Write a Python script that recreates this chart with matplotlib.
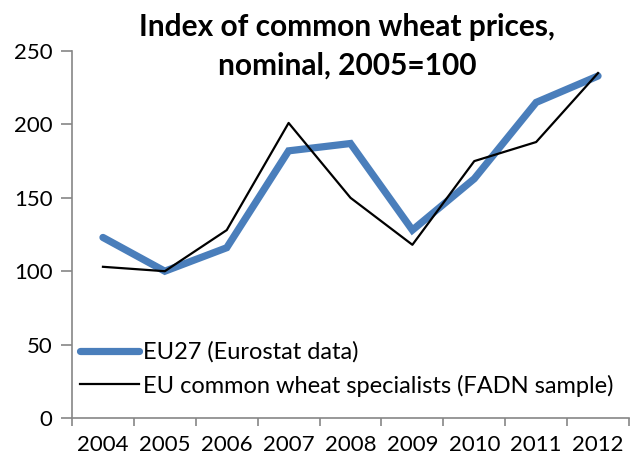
import matplotlib
matplotlib.use("Agg")
import matplotlib.pyplot as plt

plt.rcParams['font.family'] = ['Lato', 'DejaVu Sans']

years = ["2004", "2005", "2006", "2007", "2008", "2009", "2010", "2011", "2012"]
eu27 = [123, 100, 116, 182, 187, 128, 163, 215, 233]
fadn = [103, 100, 128, 201, 150, 118, 175, 188, 235]

axis_grey = "#868686"

fig = plt.figure(figsize=(6.3, 4.63), dpi=100)
ax = fig.add_axes([0.1143, 0.0972, 0.8841, 0.7926])

x = range(len(years))
ax.plot(x, eu27, color="#4A7EBB", lw=5.2, solid_capstyle="round",
        solid_joinstyle="miter", label="EU27 (Eurostat data)")
ax.plot(x, fadn, color="black", lw=1.6,
        label="EU common wheat specialists (FADN sample)")

ax.set_xlim(-0.5, len(years) - 0.5)
ax.set_ylim(0, 250)
ax.set_yticks([0, 50, 100, 150, 200, 250])
# category boundaries carry the tick marks, labels sit in between
ax.set_xticks([i + 0.5 for i in range(-1, len(years))], minor=False)
ax.set_xticklabels([])
ax.set_xticks(list(x), minor=True)
ax.set_xticklabels(years, minor=True)

for s in ["top", "right"]:
    ax.spines[s].set_visible(False)
for s in ["left", "bottom"]:
    ax.spines[s].set_color(axis_grey)
    ax.spines[s].set_linewidth(1.2)

ax.tick_params(axis="y", which="major", direction="out", length=8,
               color=axis_grey, width=1.2, labelsize=16, pad=6)
ax.tick_params(axis="x", which="major", direction="out", length=6,
               color=axis_grey, width=1.2)
ax.tick_params(axis="x", which="minor", length=0, labelsize=16, pad=12)

fig.text(0.551, 0.9, "Index of common wheat prices,\nnominal, 2005=100",
         ha="center", va="center", fontsize=21.5, fontweight="bold",
         linespacing=1.45)

ax.legend(loc="lower left", bbox_to_anchor=(0.006, 0.045), frameon=False,
          fontsize=17, handlelength=2.5, handletextpad=0.15,
          labelspacing=0.5, borderaxespad=0.0, borderpad=0.2)

fig.savefig("out.png", dpi=100)
